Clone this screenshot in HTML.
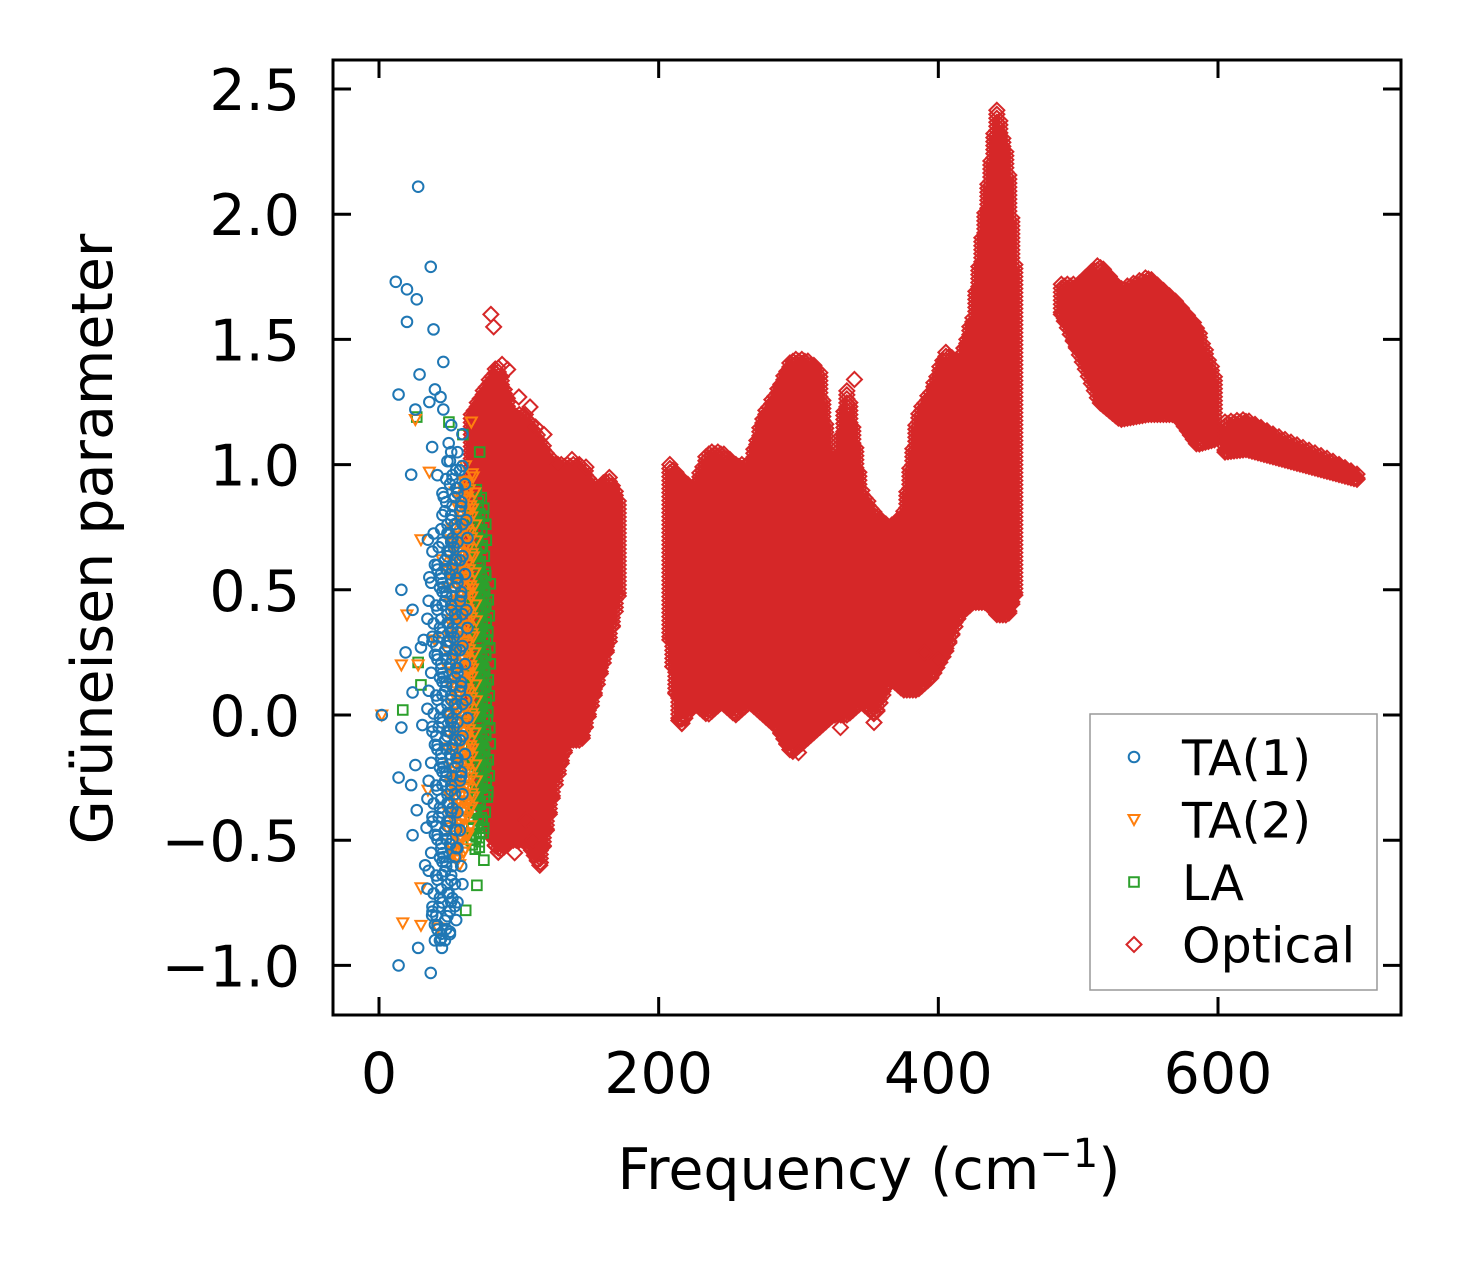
<!DOCTYPE html>
<html><head><meta charset="utf-8"><style>
html,body{margin:0;padding:0;background:#fff;}
svg text{font-family:"DejaVu Sans","Liberation Sans",sans-serif;fill:#000;}
</style></head><body>
<svg id="chart" width="1462" height="1264" xmlns="http://www.w3.org/2000/svg">
<rect width="1462" height="1264" fill="#fff"/>
<g id="marks"></g>
<g id="axes"></g>
</svg>
<script>
// ---- data ----
const xTicks = [0, 200, 400, 600];
const yTicks = [-1.0, -0.5, 0.0, 0.5, 1.0, 1.5, 2.0, 2.5];
const yTickLabels = ["\u22121.0", "\u22120.5", "0.0", "0.5", "1.0", "1.5", "2.0", "2.5"];
const seriesNames = ["TA(1)", "TA(2)", "LA", "Optical"];

// Optical band envelopes: frequency, lower and upper Gruneisen value
const optFreqA = [66, 75, 85, 95, 105, 115, 125, 135, 145, 155, 165, 172];
const optLoA   = [0.0, -0.4, -0.55, -0.5, -0.5, -0.6, -0.3, -0.1, -0.1, 0.1, 0.3, 0.5];
const optHiA   = [1.2, 1.3, 1.4, 1.2, 1.2, 1.1, 1.0, 1.0, 1.0, 0.9, 0.95, 0.85];
const optFreqB = [208, 215, 225, 235, 245, 255, 265, 275, 285, 295, 305, 315, 325, 335, 345, 355, 365, 375, 385, 395, 405, 415, 425, 435, 442, 450, 456];
const optLoB   = [0.3, -0.05, 0.05, 0.0, 0.05, 0.0, 0.05, 0.0, -0.05, -0.15, -0.1, -0.05, 0.0, 0.0, 0.05, 0.0, 0.15, 0.1, 0.1, 0.15, 0.25, 0.4, 0.45, 0.45, 0.4, 0.4, 0.5];
const optHiB   = [1.0, 0.95, 0.9, 1.05, 1.05, 1.0, 1.0, 1.2, 1.3, 1.42, 1.42, 1.38, 0.9, 1.32, 0.9, 0.8, 0.75, 0.8, 1.2, 1.3, 1.45, 1.4, 1.6, 2.1, 2.43, 2.2, 1.7];
const optFreqC = [488, 500, 515, 530, 550, 570, 585, 598];
const optLoC   = [1.6, 1.45, 1.25, 1.18, 1.2, 1.2, 1.08, 1.1];
const optHiC   = [1.72, 1.72, 1.8, 1.7, 1.75, 1.65, 1.55, 1.35];
const optFreqD = [605, 620, 640, 660, 680, 700];
const optLoD   = [1.05, 1.06, 1.03, 1.0, 0.97, 0.94];
const optHiD   = [1.17, 1.18, 1.12, 1.07, 1.02, 0.96];
const optOutF  = [80, 82, 88, 92, 100, 108, 112, 118, 128, 138, 148, 340, 300, 330, 115, 110, 105, 97, 354, 390, 400];
const optOutG  = [1.6, 1.55, 1.4, 1.38, 1.27, 1.23, 1.15, 1.12, 1.0, 1.02, 0.99, 1.34, -0.15, -0.05, -0.6, -0.5, -0.42, -0.55, -0.03, 0.25, 0.22];

// Acoustic clouds and scattered points
const ta1Freq = [40, 44, 48, 52, 56, 59];
const ta1Lo   = [-0.9, -0.9, -0.9, -0.85, -0.7, 0.0];
const ta1Hi   = [0.6, 0.8, 1.0, 1.1, 1.2, 0.9];
const ta1OutF = [28, 12, 20, 27, 37, 20, 39, 46, 14, 44, 29, 26, 36, 40, 46, 38, 23, 16, 24, 19, 30, 16, 2, 24, 31, 14, 23, 24, 27, 14, 28, 37, 45, 38, 33, 35, 26, 32, 36, 34];
const ta1OutG = [2.11, 1.73, 1.70, 1.66, 1.79, 1.57, 1.54, 1.41, 1.28, 1.27, 1.36, 1.22, 1.25, 1.30, 1.22, 1.07, 0.96, 0.50, 0.42, 0.25, 0.27, -0.05, 0.0, 0.09, -0.04, -0.25, -0.28, -0.48, -0.38, -1.0, -0.93, -1.03, -0.93, -0.80, -0.6, 0.7, -0.2, 0.3, 0.55, -0.45];
const ta2Freq = [52, 58, 63, 68];
const ta2Lo   = [-0.55, -0.6, -0.5, -0.3];
const ta2Hi   = [0.7, 0.9, 1.0, 0.95];
const ta2OutF = [30, 17, 30, 28, 16, 20, 30, 36, 26, 66, 2, 45, 40, 35, 42];
const ta2OutG = [-0.69, -0.83, -0.84, 0.2, 0.2, 0.4, 0.7, 0.97, 1.18, 1.17, 0.0, 0.62, 0.3, -0.3, -0.85];
const laFreq = [66, 70, 74, 78];
const laLo   = [-0.5, -0.55, -0.5, -0.3];
const laHi   = [0.8, 0.9, 0.9, 0.5];
const laOutF = [27, 50, 60, 17, 70, 62, 75, 72, 30, 28];
const laOutG = [1.19, 1.17, 1.12, 0.02, -0.68, -0.78, -0.58, 1.05, 0.12, 0.21];

// ---- axes ----
const L = 333, R = 1401, T = 60, B = 1015;
const xs = f => 379 + f * (1218 - 379) / 600;
const ys = g => 715 - g * 250.4;
const NS = "http://www.w3.org/2000/svg";
const marks = document.getElementById('marks');
const axes = document.getElementById('axes');
function mk(tag, attrs, parent) {
  const e = document.createElementNS(NS, tag);
  for (const k in attrs) e.setAttribute(k, attrs[k]);
  parent.appendChild(e);
  return e;
}
const colors = ["#1f77b4", "#ff7f0e", "#2ca02c", "#d62728"];
function markerPath(type, x, y) {
  if (type === 0) { const r = 5.3; return `M${x - r},${y}a${r},${r} 0 1,0 ${2 * r},0a${r},${r} 0 1,0 ${-2 * r},0`; }
  if (type === 1) { return `M${x - 5.5},${y - 4.5}L${x + 5.5},${y - 4.5}L${x},${y + 5.5}Z`; }
  if (type === 2) { return `M${x - 4.8},${y - 4.8}h9.6v9.6h-9.6Z`; }
  return `M${x},${y - 7.5}L${x + 7.5},${y}L${x},${y + 7.5}L${x - 7.5},${y}Z`;
}
function interp(fs, vs, f) {
  for (let i = 0; i < fs.length - 1; i++) {
    if (f >= fs[i] && f <= fs[i + 1]) { const t = (f - fs[i]) / (fs[i + 1] - fs[i]); return vs[i] + t * (vs[i + 1] - vs[i]); }
  }
  return vs[vs.length - 1];
}
const wob = [0, 2.5, -1.5, 3, -2.5, 1, -3, 2, -1, 0.5];
function cloud(type, fs, lo, hi, dx, dy, name, w) {
  let d = "";
  const x0 = xs(fs[0]), x1 = xs(fs[fs.length - 1]);
  let col = 0;
  for (let x = x0; x <= x1 + 0.01; x += dx, col++) {
    const f = fs[0] + (x - x0) / (x1 - x0 || 1) * (fs[fs.length - 1] - fs[0]);
    const yTop = ys(interp(fs, hi, f)), yBot = ys(interp(fs, lo, f));
    let k = 0;
    for (let y = yTop + (col % 2) * dy / 2; y <= yBot; y += dy, k++) d += markerPath(type, x + w * wob[(k + col * 3) % 10], y);
    d += markerPath(type, x, yBot);
  }
  const p = mk('path', { d: d, fill: 'none', stroke: colors[type], 'stroke-width': 2 }, marks);
  
  
}
function points(type, fs, gs, name) {
  let d = "";
  for (let i = 0; i < fs.length; i++) d += markerPath(type, xs(fs[i]), ys(gs[i]));
  const p = mk('path', { d: d, fill: 'none', stroke: colors[type], 'stroke-width': 2 }, marks);
  
  
}
cloud(3, optFreqA, optLoA, optHiA, 3, 4, 'optical-band-low', 0);
cloud(3, optFreqB, optLoB, optHiB, 3, 4, 'optical-band-mid', 0);
cloud(3, optFreqC, optLoC, optHiC, 3, 4, 'optical-band-high', 0);
cloud(3, optFreqD, optLoD, optHiD, 3, 4, 'optical-band-top', 0);
points(3, optOutF, optOutG, 'optical-outliers');
cloud(2, laFreq, laLo, laHi, 4, 8, 'la-cloud', 1);
points(2, laOutF, laOutG, 'la-outliers');
cloud(1, ta2Freq, ta2Lo, ta2Hi, 4, 8, 'ta2-cloud', 1.5);
points(1, ta2OutF, ta2OutG, 'ta2-outliers');
cloud(0, ta1Freq, ta1Lo, ta1Hi, 5, 9, 'ta1-cloud', 2.5);
points(0, ta1OutF, ta1OutG, 'ta1-outliers');

// frame
const frame = mk('rect', { x: L, y: T, width: R - L, height: B - T, fill: 'none', stroke: '#000', 'stroke-width': 3 }, axes);


xTicks.forEach(v => {
  const x = xs(v);
  const t1 = mk('line', { x1: x, x2: x, y1: B, y2: B - 18, stroke: '#000', 'stroke-width': 3 }, axes);
  
  
  const t2 = mk('line', { x1: x, x2: x, y1: T, y2: T + 18, stroke: '#000', 'stroke-width': 3 }, axes);
  
  
  const lb = mk('text', { x: x, y: 1093, 'font-size': 57, 'text-anchor': 'middle' }, axes);
  lb.textContent = String(v);
  
  
});
yTicks.forEach((v, i) => {
  const y = ys(v);
  const t1 = mk('line', { x1: L, x2: L + 18, y1: y, y2: y, stroke: '#000', 'stroke-width': 3 }, axes);
  
  
  const t2 = mk('line', { x1: R, x2: R - 18, y1: y, y2: y, stroke: '#000', 'stroke-width': 3 }, axes);
  
  
  const lb = mk('text', { x: 300, y: y + 21, 'font-size': 57, 'text-anchor': 'end' }, axes);
  lb.textContent = yTickLabels[i];
  
  
});
const xt = mk('text', { x: 869, y: 1189, 'font-size': 57, 'text-anchor': 'middle' }, axes);
xt.innerHTML = 'Frequency (cm<tspan dy="-22" font-size="40">\u22121</tspan><tspan dy="22">)</tspan>';


const yt = mk('text', { x: 0, y: 0, 'font-size': 57, 'text-anchor': 'middle', transform: 'translate(112,539) rotate(-90)' }, axes);
yt.textContent = 'Grüneisen parameter';



// legend
const lg = mk('g', {}, axes);


const lbox = mk('rect', { x: 1090, y: 714, width: 287, height: 276, fill: '#fff', stroke: '#999', 'stroke-width': 1.5 }, lg);


seriesNames.forEach((n, i) => {
  const y = 757 + i * 62.5;
  const m = mk('path', { d: markerPath(i, 1134, y), fill: 'none', stroke: colors[i], 'stroke-width': 2 }, lg);
  
  
  const t = mk('text', { x: 1182, y: y + 18, 'font-size': 49 }, lg);
  t.textContent = n;
  
  
});
</script>
</body></html>
